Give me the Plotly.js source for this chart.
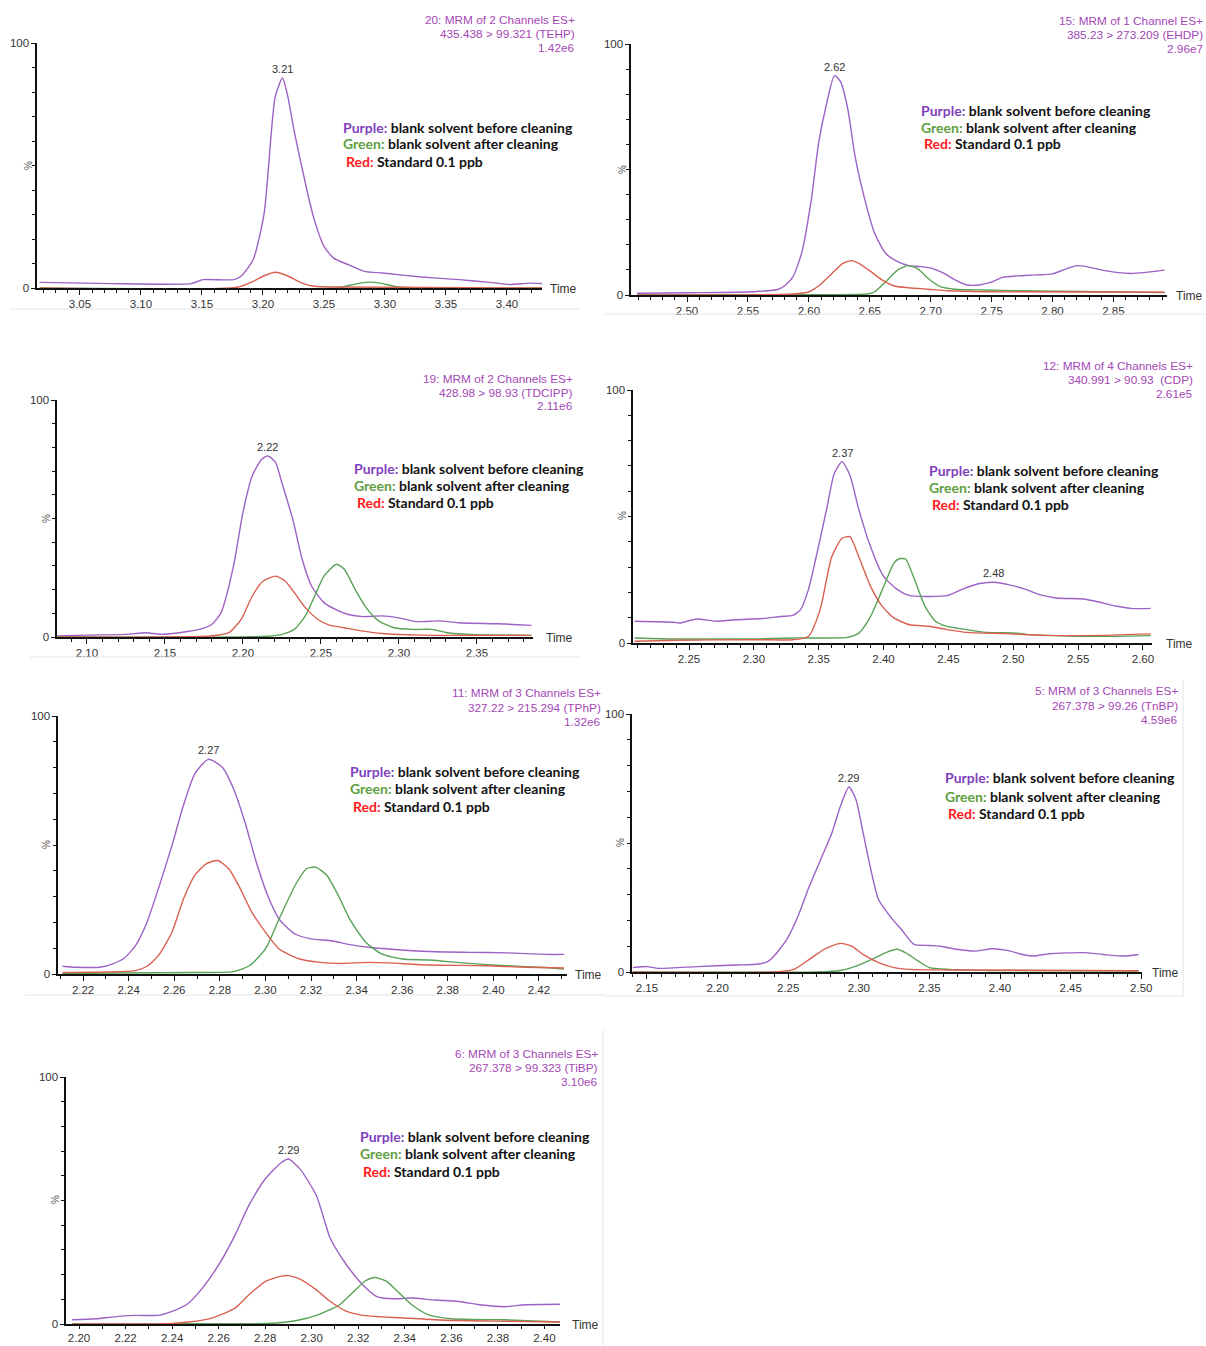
<!DOCTYPE html>
<html><head><meta charset="utf-8">
<script src="https://cdn.plot.ly/plotly-3.0.1.min.js"></script>
<style>html,body{margin:0;padding:0;background:#fff}#chart{width:1206px;height:1346px}</style>
</head><body><div id="chart"></div>
<script>
// ---------- DATA ----------
// Panel 1: TEHP
const p1_headers = ["20: MRM of 2 Channels ES+", "435.438 > 99.321 (TEHP)", "1.42e6"];
const p1_peaks = ["3.21"];
const p1_purple_x = [3.017,3.075,3.141,3.151,3.176,3.182,3.192,3.201,3.210,3.216,3.220,3.226,3.236,3.242,3.250,3.258,3.270,3.283,3.298,3.330,3.361,3.386,3.402,3.418,3.429];
const p1_purple_y = [2.3,1.8,1.8,3.4,3.4,4.8,11.6,30.6,78,85.7,79,63,40,28,17,12.2,9.5,6.8,6.1,4.5,3.4,2.3,1.4,2.0,1.8];
const p1_green_x = [3.017,3.261,3.270,3.280,3.287,3.298,3.311,3.429];
const p1_green_y = [0,0,1,2,2.4,1.8,0.4,0];
const p1_red_x = [3.017,3.179,3.192,3.201,3.210,3.220,3.232,3.242,3.261,3.429];
const p1_red_y = [0,0.3,2.7,5,6.4,5,2,0.7,0.4,0];

// Panel 2: EHDP
const p2_headers = ["15: MRM of 1 Channel ES+", "385.23 > 273.209 (EHDP)", "2.96e7"];
const p2_peaks = ["2.62"];
const p2_purple_x = [2.459,2.502,2.555,2.575,2.581,2.587,2.594,2.602,2.608,2.614,2.621,2.626,2.632,2.638,2.646,2.654,2.663,2.673,2.682,2.692,2.701,2.711,2.720,2.730,2.740,2.749,2.759,2.771,2.787,2.800,2.809,2.820,2.828,2.838,2.854,2.866,2.882,2.892];
const p2_purple_y = [0.7,0.9,1.3,2.3,4,7.3,16.6,37.9,60.5,75,87.4,85,74,55,37.9,24.6,16.6,13.3,11.7,11.3,10.6,8.6,6,4,4,5,7,7.6,8,8.4,10,11.7,11.3,10.2,8.9,8.6,9.3,10];
const p2_green_x = [2.459,2.600,2.648,2.654,2.663,2.673,2.681,2.689,2.698,2.708,2.720,2.746,2.768,2.892];
const p2_green_y = [0,0.1,0.4,1.3,5.3,10,11.7,10.6,6.6,3.3,2.3,2,1.7,1.0];
const p2_red_x = [2.459,2.587,2.600,2.609,2.619,2.628,2.635,2.641,2.651,2.660,2.670,2.682,2.698,2.714,2.746,2.892];
const p2_red_y = [0,0.4,1.3,4,8.6,12.6,13.7,12.6,9.3,6,3.6,2.9,2.3,1.7,1.3,1.1];

// Panel 3: TDCIPP
const p3_headers = ["19: MRM of 2 Channels ES+", "428.98 > 98.93 (TDCIPP)", "2.11e6"];
const p3_peaks = ["2.22"];
const p3_purple_x = [2.081,2.100,2.125,2.138,2.147,2.159,2.172,2.180,2.186,2.194,2.200,2.206,2.212,2.216,2.221,2.225,2.232,2.238,2.244,2.252,2.260,2.267,2.277,2.289,2.299,2.311,2.326,2.338,2.363,2.373,2.385];
const p3_purple_y = [0.4,0.8,1.1,1.8,1.1,1.8,3.2,5.3,10.3,30,52.5,68,75,76.4,73.6,65,49.6,32.8,21.5,14.5,11.4,9.6,8.6,8.9,8.2,6.5,6.8,6,5.6,5.3,4.9];
const p3_green_x = [2.081,2.216,2.225,2.233,2.240,2.246,2.252,2.260,2.265,2.272,2.279,2.287,2.297,2.309,2.321,2.331,2.346,2.385];
const p3_green_y = [0,0.3,1.1,3.2,8.9,17.3,25.7,30.7,28.6,20,12.4,6.8,3.9,3.2,3.2,1.8,1.1,0.7];
const p3_red_x = [2.081,2.179,2.191,2.199,2.206,2.213,2.221,2.227,2.233,2.240,2.248,2.255,2.265,2.277,2.289,2.314,2.385];
const p3_red_y = [0,0.4,1.8,7.5,17.3,23.6,25.7,23.6,18.7,12.4,7.5,5.1,3.9,2.5,1.5,0.8,0.7];

// Panel 4: CDP
const p4_headers = ["12: MRM of 4 Channels ES+", "340.991 > 90.93  (CDP)", "2.61e5"];
const p4_peaks = ["2.37", "2.48"];
const p4_purple_x = [2.208,2.238,2.243,2.256,2.271,2.286,2.307,2.321,2.330,2.336,2.342,2.348,2.356,2.362,2.368,2.374,2.381,2.390,2.400,2.411,2.420,2.435,2.449,2.461,2.473,2.485,2.497,2.509,2.521,2.533,2.554,2.566,2.580,2.592,2.606];
const p4_purple_y = [8.6,8.2,7.9,9.5,8.6,9.2,9.7,10.5,10.9,13.2,21,34,52.6,67,71.7,66.4,52.6,38,26.3,21,18.7,18.4,18.7,21.3,23.4,24,23,21.3,19,17.8,17.4,16.2,14.5,13.6,13.7];
const p4_green_x = [2.208,2.241,2.301,2.330,2.372,2.381,2.390,2.399,2.408,2.412,2.417,2.423,2.432,2.440,2.449,2.464,2.479,2.503,2.512,2.568,2.606];
const p4_green_y = [2,1.6,1.6,2,2.2,3.9,10.5,21,31.6,33.3,33.2,26.3,14.5,8.6,6.6,5.3,4.2,3.9,3.3,2.6,2.9];
const p4_red_x = [2.208,2.241,2.301,2.330,2.342,2.351,2.360,2.368,2.374,2.381,2.390,2.399,2.408,2.420,2.435,2.449,2.464,2.494,2.524,2.568,2.606];
const p4_red_y = [0.7,1.1,1.3,1.3,2.6,13,34,41.4,42,34,22.4,14.5,9.9,7.2,6.6,5.3,4.2,3.7,3,3,3.6];

// Panel 5: TPhP
const p5_headers = ["11: MRM of 3 Channels ES+", "327.22 > 215.294 (TPhP)", "1.32e6"];
const p5_peaks = ["2.27"];
const p5_purple_x = [2.211,2.217,2.228,2.233,2.238,2.243,2.248,2.253,2.259,2.264,2.269,2.275,2.281,2.286,2.291,2.296,2.301,2.306,2.313,2.320,2.329,2.337,2.346,2.354,2.372,2.389,2.406,2.423,2.431];
const p5_purple_y = [3,2.6,2.7,3.9,6.1,11,20,33,49.8,65.3,77.6,83.2,80.2,71.8,58.9,43.3,30.4,21.3,15.5,13.6,12.9,11.4,10.3,9.7,8.7,8.4,8.2,7.6,7.6];
const p5_green_x = [2.211,2.235,2.269,2.286,2.293,2.300,2.306,2.313,2.318,2.322,2.327,2.332,2.337,2.344,2.351,2.360,2.372,2.389,2.406,2.423,2.431];
const p5_green_y = [0.1,0.4,0.6,0.9,3.2,9.7,21.3,34.3,40.8,41.4,38.2,30.4,21.3,12.3,7.8,5.8,5.4,4.1,3.2,2.5,1.9];
const p5_red_x = [2.211,2.235,2.243,2.248,2.253,2.259,2.264,2.269,2.274,2.279,2.284,2.289,2.294,2.300,2.306,2.315,2.324,2.332,2.346,2.354,2.372,2.397,2.414,2.431];
const p5_red_y = [0.6,0.9,1.3,3,7.1,16.2,29,38.2,42.7,44,40.7,33,24,16.2,9.7,5.8,4.5,4.1,4.5,4.3,3.5,3.2,2.6,2.3];

// Panel 6: TnBP
const p6_headers = ["5: MRM of 3 Channels ES+", "267.378 > 99.26 (TnBP)", "4.59e6"];
const p6_peaks = ["2.29"];
const p6_purple_x = [2.140,2.150,2.158,2.186,2.213,2.227,2.235,2.240,2.249,2.257,2.265,2.273,2.281,2.287,2.293,2.298,2.303,2.309,2.314,2.323,2.331,2.339,2.350,2.358,2.369,2.383,2.394,2.405,2.416,2.424,2.435,2.459,2.473,2.487,2.498];
const p6_purple_y = [1.7,2.1,1.4,2.1,2.7,3,3.9,6.2,12.6,21.7,33.3,43.6,54,64.3,71.7,66.8,54,38.5,28,21,15.9,10.7,10.3,10,8.8,8.1,9,8.4,6.8,6.2,7.1,7.5,6.8,6.2,6.8];
const p6_green_x = [2.140,2.270,2.287,2.298,2.309,2.320,2.327,2.333,2.342,2.350,2.364,2.392,2.498];
const p6_green_y = [0,0,0.6,2.3,4.9,7.7,8.8,7.5,4.3,1.7,1,0.6,0.4];
const p6_red_x = [2.140,2.243,2.254,2.265,2.276,2.287,2.295,2.303,2.314,2.325,2.336,2.364,2.498];
const p6_red_y = [0,0.1,1,4.9,9,11.1,10,6.8,3.6,1.7,1,0.8,0.5];

// Panel 7: TiBP
const p7_headers = ["6: MRM of 3 Channels ES+", "267.378 > 99.323 (TiBP)", "3.10e6"];
const p7_peaks = ["2.29"];
const p7_purple_x = [2.197,2.207,2.217,2.225,2.234,2.240,2.247,2.253,2.260,2.267,2.273,2.280,2.287,2.290,2.295,2.302,2.308,2.315,2.322,2.328,2.335,2.343,2.353,2.363,2.372,2.383,2.392,2.407];
const p7_purple_y = [1.7,2.1,3.1,3.5,3.5,5.1,8.4,14.5,23.9,35.9,48,58.7,65.4,66.8,62.7,52,34.6,23.9,15.8,11.1,10.2,10.5,9.7,9.1,7.8,7,7.8,8];
const p7_green_x = [2.197,2.250,2.283,2.293,2.303,2.312,2.318,2.323,2.327,2.332,2.337,2.343,2.350,2.360,2.383,2.407];
const p7_green_y = [0,0.1,0.3,1.3,3.8,7.8,13.1,17.4,18.8,17.4,13.1,7.8,3.8,2.1,1.7,0.8];
const p7_red_x = [2.197,2.237,2.247,2.257,2.267,2.273,2.280,2.287,2.290,2.295,2.302,2.308,2.315,2.322,2.330,2.340,2.358,2.383,2.407];
const p7_red_y = [0,0.1,0.8,2.4,6.4,11.8,17.2,19.4,19.6,18.2,13.8,9.1,5.1,3.5,2.9,2.4,1.5,1.1,0.8];

const legendLines = [
  ["Purple:", "blank solvent before cleaning"],
  ["Green:", "blank solvent after cleaning"],
  ["Red:", "Standard 0.1 ppb"]
];
const yTickVals = [0, 100];
const yTickText = ["0", "100"];
const xAxisLabel = "Time";
const yAxisLabel = "%";

// ---------- STYLE / LAYOUT ----------
const W = 1206, H = 1346;
const COL = {purple: "#9c62c4", green: "#57a257", red: "#d9604f"};
const LEGCOL = ["#7f3fbf", "#5e9e3e", "#ff1a1a"];
const HDRCOL = "#a447b5";
const AXFONT = "Liberation Sans, Arial, sans-serif";

const panels = [
  {hdr:p1_headers, peaks:p1_peaks, s:{purple:[p1_purple_x,p1_purple_y],green:[p1_green_x,p1_green_y],red:[p1_red_x,p1_red_y]},
   L:37,R:542,T:43,B:288, range:[3.0148,3.4287], dtick:0.05, hR:577, hY:[20,34,48], lX:341, lY:[127,144,161], pct:[28,165], time:548, tl:5},
  {hdr:p2_headers, peaks:p2_peaks, s:{purple:[p2_purple_x,p2_purple_y],green:[p2_green_x,p2_green_y],red:[p2_red_x,p2_red_y]},
   L:631,R:1167,T:44,B:295, range:[2.454,2.894], dtick:0.05, hR:1205, hY:[21,35,49], lX:919, lY:[110,127,144], pct:[622,170], time:1174, tl:5},
  {hdr:p3_headers, peaks:p3_peaks, s:{purple:[p3_purple_x,p3_purple_y],green:[p3_green_x,p3_green_y],red:[p3_red_x,p3_red_y]},
   L:57,R:533,T:400,B:637, range:[2.0808,2.386], dtick:0.05, hR:575, hY:[379,393,406], lX:352, lY:[468,485,502], pct:[46,519], time:544, tl:5},
  {hdr:p4_headers, peaks:p4_peaks, s:{purple:[p4_purple_x,p4_purple_y],green:[p4_green_x,p4_green_y],red:[p4_red_x,p4_red_y]},
   L:633,R:1152,T:390,B:643, range:[2.2068,2.607], dtick:0.05, hR:1195, hY:[366,380,394], lX:927, lY:[470,487,504], pct:[622,516], time:1164, tl:5},
  {hdr:p5_headers, peaks:p5_peaks, s:{purple:[p5_purple_x,p5_purple_y],green:[p5_green_x,p5_green_y],red:[p5_red_x,p5_red_y]},
   L:58,R:567,T:716,B:974, range:[2.209,2.4323], dtick:0.02, hR:603, hY:[693,708,722], lX:348, lY:[771,788,806], pct:[46,845], time:573, tl:5},
  {hdr:p6_headers, peaks:p6_peaks, s:{purple:[p6_purple_x,p6_purple_y],green:[p6_green_x,p6_green_y],red:[p6_red_x,p6_red_y]},
   L:632,R:1142,T:714,B:972, range:[2.1394,2.5005], dtick:0.05, hR:1180, hY:[691,706,720], lX:943, lY:[778,796,813], pct:[620,843], time:1150, tl:5},
  {hdr:p7_headers, peaks:p7_peaks, s:{purple:[p7_purple_x,p7_purple_y],green:[p7_green_x,p7_green_y],red:[p7_red_x,p7_red_y]},
   L:66,R:560,T:1077,B:1324, range:[2.1944,2.4067], dtick:0.02, hR:600, hY:[1054,1068,1082], lX:358, lY:[1136,1153,1171], pct:[55,1200], time:570, tl:3}
];

const px = v => v / W;
const py = v => 1 - v / H;

const traces = [];
const layout = {
  width: W, height: H, margin: {l:0, r:0, t:0, b:0},
  paper_bgcolor: "#fff", plot_bgcolor: "rgba(0,0,0,0)", showlegend: false,
  annotations: [], shapes: []
};

panels.forEach((p, i) => {
  const n = i + 1;
  const xid = n === 1 ? "x" : "x" + n;
  const yid = n === 1 ? "y" : "y" + n;
  const xk = n === 1 ? "xaxis" : "xaxis" + n;
  const yk = n === 1 ? "yaxis" : "yaxis" + n;

  ["purple", "green", "red"].forEach(k => {
    traces.push({
      x: p.s[k][0], y: p.s[k][1], xaxis: xid, yaxis: yid, mode: "lines",
      line: {color: COL[k], width: 1.4, shape: "spline", smoothing: 0.6},
      hoverinfo: "skip", cliponaxis: true
    });
  });

  layout[xk] = {
    domain: [px(p.L), px(p.R)], range: p.range, anchor: yid,
    showline: true, linecolor: "#111", linewidth: 1.6, mirror: false,
    ticks: "outside", ticklen: p.tl, tickwidth: 1, tickcolor: "#111",
    tick0: 0, dtick: p.dtick, tickformat: ".2f",
    tickfont: {family: AXFONT, size: 11.5, color: "#333"},
    minor: {dtick: 0.01, tick0: 0, ticks: "outside", ticklen: 3, tickcolor: "#111", showgrid: false},
    showgrid: false, zeroline: false, fixedrange: true
  };
  layout[yk] = {
    domain: [py(p.B), py(p.T)], range: [0, 100], anchor: xid,
    showline: true, linecolor: "#111", linewidth: 1.6,
    tickmode: "array", tickvals: yTickVals, ticktext: yTickText,
    ticks: "outside", ticklen: 4, tickcolor: "#111",
    tickfont: {family: AXFONT, size: 11.5, color: "#333"},
    minor: {tick0: 0, dtick: 10, ticks: "outside", ticklen: 3, tickcolor: "#111", showgrid: false},
    showgrid: false, zeroline: false, fixedrange: true
  };

  // header lines
  p.hdr.forEach((t, j) => {
    layout.annotations.push({xref: "paper", yref: "paper", x: px(p.hR), y: py(p.hY[j]),
      xanchor: "right", yanchor: "middle", showarrow: false, text: t,
      font: {family: AXFONT, size: 11.8, color: HDRCOL}});
  });
  // legend text
  legendLines.forEach((ln, j) => {
    layout.annotations.push({xref: "paper", yref: "paper", x: px(p.lX + (j === 2 ? 3 : 0)), y: py(p.lY[j]),
      xanchor: "left", yanchor: "middle", showarrow: false,
      text: '<b><span style="color:' + LEGCOL[j] + '">' + ln[0] + '</span> ' + ln[1] + '</b>',
      font: {family: "Lato, 'Noto Sans', sans-serif", size: 14, color: "#111"}});
  });
  // % label
  layout.annotations.push({xref: "paper", yref: "paper", x: px(p.pct[0]), y: py(p.pct[1]),
    xanchor: "center", yanchor: "middle", showarrow: false, text: yAxisLabel, textangle: -90,
    font: {family: AXFONT, size: 10, color: "#555"}});
  // Time label
  layout.annotations.push({xref: "paper", yref: "paper", x: px(p.time), y: py(p.B + 1),
    xanchor: "left", yanchor: "middle", showarrow: false, text: xAxisLabel,
    font: {family: AXFONT, size: 12, color: "#333"}});
  // peak labels: placed at the purple local maximum nearest the labelled retention time
  const PX = p.s.purple[0], PY = p.s.purple[1];
  p.peaks.forEach(lbl => {
    const rt = parseFloat(lbl);
    let best = -1;
    for (let k = 0; k < PX.length; k++) {
      if (Math.abs(PX[k] - rt) <= 0.015 && (best < 0 || PY[k] > PY[best])) best = k;
    }
    layout.annotations.push({xref: xid, yref: yid, x: PX[best], y: PY[best],
      xanchor: "center", yanchor: "bottom", yshift: 1, showarrow: false, text: lbl,
      font: {family: AXFONT, size: 11, color: "#333"}});
  });
});

// faint frame lines of the original figure panels
const frames = [
  [10,309,580,309],[605,314,1205,314],[30,657,580,657],[25,995,605,995],
  [605,996,1183,996],[1183,680,1183,996],[603,1030,603,1346]
];
frames.forEach(f => layout.shapes.push({type:"line", xref:"paper", yref:"paper",
  x0:px(f[0]), y0:py(f[1]), x1:px(f[2]), y1:py(f[3]), line:{color:"#e4e4e4", width:1}}));

Plotly.newPlot("chart", traces, layout, {staticPlot: true, displayModeBar: false});
</script>
</body></html>
